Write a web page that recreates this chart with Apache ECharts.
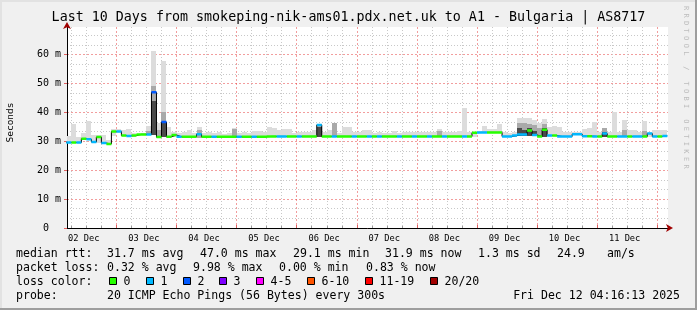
<!DOCTYPE html>
<html><head><meta charset="utf-8">
<script src="https://cdn.jsdelivr.net/npm/echarts@6/dist/echarts.min.js"></script>
<style>html,body{margin:0;padding:0;background:#f0f0f0}#c{width:697px;height:310px}</style>
</head><body><div id="c"></div><script>
// ---- time axis (hours after 02 Dec 00:00) ----
const T0 = 4;          // first sample start
const STEP = 2;        // hours per sample
const X_MIN = 4.27, X_MAX = 244.27;
const Y_MAX = 69.6;
const dayLabels = ['02 Dec','03 Dec','04 Dec','05 Dec','06 Dec','07 Dec','08 Dec','09 Dec','10 Dec','11 Dec'];
const dayNoon = [12,36,60,84,108,132,156,180,204,228];
const midnights = [24,48,72,96,120,144,168,192,216,240];
const sixHours = [6,12,18,30,36,42,54,60,66,78,84,90,102,108,114,126,132,138,150,156,162,174,180,186,198,204,210,222,228,234];
const yMajor = [0,10,20,30,40,50,60];
const yMinor = [3.333,6.667,13.333,16.667,23.333,26.667,33.333,36.667,43.333,46.667,53.333,56.667,63.333,66.667];

// ---- data (ms) ----
const median = [
29.6,29.6,29.6,30.9,30.7,29.8,31.5,29.4,29.1,33.4,
33.4,32.0,31.9,32.0,32.4,32.4,32.4,47.0,31.5,36.7,
31.6,32.2,31.6,31.6,31.6,31.6,32.5,31.6,31.6,31.6,
31.6,31.6,31.6,31.6,31.6,31.6,31.6,31.6,31.6,31.6,
31.7,31.7,31.7,31.7,31.7,31.7,31.7,31.7,31.7,31.7,
35.7,31.7,31.7,31.7,31.7,31.7,31.7,31.7,31.7,31.7,
31.7,31.7,31.7,31.7,31.7,31.7,31.7,31.7,31.7,31.7,
31.7,31.7,31.7,31.7,31.7,31.7,31.7,31.7,31.7,31.7,
31.7,33.0,33.1,33.1,33.1,33.1,33.1,31.7,31.7,32.0,
32.4,32.4,33.8,32.2,31.7,34.0,32.0,32.0,31.7,31.7,
31.7,32.5,32.5,31.8,31.8,31.7,31.7,32.7,31.7,31.7,
31.7,31.7,31.7,31.7,31.7,31.7,32.7,31.7,31.7,31.9];
const loss = [
1,0,1,0,1,1,0,1,0,0,
1,0,1,0,0,0,1,2,0,2,
0,0,1,0,0,0,1,0,0,1,
0,0,0,0,1,0,0,1,0,0,
0,0,1,1,0,0,1,0,0,0,
1,0,0,1,0,0,0,1,0,0,
1,0,1,0,0,0,1,0,0,1,
0,0,1,0,0,1,0,0,0,1,
0,0,1,1,0,0,0,1,1,1,
1,1,0,1,0,0,1,0,1,1,
1,1,1,1,0,1,0,1,0,0,
1,1,0,1,1,0,1,1,0,1];
const smokeLo = [
29.3,29.3,29.3,30.6,30.4,29.5,29.6,29.2,28.9,32.0,
33.1,31.7,31.6,31.7,32.1,32.1,32.1,32.2,31.2,31.5,
31.3,31.4,31.3,31.3,31.3,31.3,31.3,31.3,31.3,31.3,
31.3,31.3,31.3,31.3,31.3,31.3,31.3,31.3,31.3,31.3,
31.4,31.4,31.4,31.4,31.4,31.4,31.4,31.4,31.4,31.4,
31.5,31.4,31.4,31.4,31.4,31.4,31.4,31.4,31.4,31.4,
31.4,31.4,31.4,31.4,31.4,31.4,31.4,31.4,31.4,31.4,
31.4,31.4,31.4,31.4,31.4,31.4,31.4,31.4,31.4,31.4,
31.4,31.6,32.8,32.8,32.8,32.8,32.8,31.4,31.4,31.6,
31.8,31.8,31.9,31.7,31.4,31.6,31.7,31.7,31.4,31.4,
31.4,32.2,32.2,31.5,31.5,31.4,31.4,31.6,31.4,31.4,
31.4,31.4,31.4,31.4,31.4,31.4,31.6,31.4,31.4,31.6];
const smokeDark = [
null,null,null,null,null,null,null,null,null,null,
null,null,null,null,null,null,null,44.0,null,36.7,
null,null,null,null,null,null,null,null,null,null,
null,null,null,null,null,null,null,null,null,null,
null,null,null,null,null,null,null,null,null,null,
35.0,null,null,null,null,null,null,null,null,null,
null,null,null,null,null,null,null,null,null,null,
null,null,null,null,null,null,null,null,null,null,
null,null,null,null,null,null,null,null,null,null,
34.5,34.0,34.5,33.5,null,34.5,null,null,null,null,
null,null,null,null,null,null,null,33.3,null,null,
null,null,null,null,null,null,null,null,null,null];
const smokeMid = [
null,null,null,null,null,null,null,null,null,null,
null,null,null,null,null,null,33.5,49.0,34.0,40.0,
null,null,null,null,null,null,33.8,null,null,null,
null,null,null,34.4,null,null,null,null,null,null,
null,null,null,null,null,null,null,null,null,null,
35.5,null,null,36.3,null,null,null,null,null,null,
null,null,null,null,null,null,null,null,null,null,
null,null,null,null,33.5,null,null,null,null,null,
null,null,null,null,null,null,null,null,null,null,
36.5,36.5,36.0,35.5,34.5,36.0,null,null,null,null,
null,null,null,null,null,null,null,34.5,null,null,
null,34.0,null,null,null,33.5,null,null,null,null];
const smokeHi = [
31.7,36.1,31.5,32.8,36.9,32.3,32.3,32.3,30.5,34.2,
34.2,34.0,34.2,33.0,32.6,33.0,35.4,61.4,36.5,57.7,
34.9,33.3,33.0,33.2,33.9,32.9,35.0,33.0,33.2,32.8,
33.4,32.7,33.0,34.8,33.0,33.2,33.0,33.7,33.7,33.4,
34.9,34.5,33.8,34.2,34.2,32.9,33.4,33.4,33.4,33.9,
35.9,33.4,34.0,36.5,33.0,35.1,35.1,33.4,33.4,33.9,
33.9,33.0,33.4,32.9,33.0,33.6,33.0,33.1,33.1,33.3,
33.1,33.1,33.4,33.1,34.3,33.1,33.4,33.1,33.5,41.5,
33.1,33.3,33.6,35.4,34.2,34.2,36.0,33.4,33.0,33.4,
38.2,38.0,38.2,37.5,36.3,37.7,35.1,35.4,35.0,33.4,
33.4,33.2,33.2,34.2,34.6,36.7,33.4,34.8,33.1,40.0,
33.4,37.5,33.9,33.9,33.4,36.9,33.4,34.0,34.0,33.8];

// ---- legend texts ----
const titleText = 'Last 10 Days from smokeping-nik-ams01.pdx.net.uk to A1 - Bulgaria | AS8717';
const medianStats = ['31.7 ms avg','47.0 ms max','29.1 ms min','31.9 ms now','1.3 ms sd','24.9','am/s'];
const lossStats = ['0.32 % avg','9.98 % max','0.00 % min','0.83 % now'];
const lossLegend = ['0','1','2','3','4-5','6-10','11-19','20/20'];
const lossLegendColors = ['#26ff00','#00b8ff','#0059ff','#7e00ff','#ff00ff','#ff5500','#ff0000','#a10000'];
const lossLineColor = {0:'#26ff00',1:'#00b8ff',2:'#0059ff'};
const probeText = '20 ICMP Echo Pings (56 Bytes) every 300s';
const dateText = 'Fri Dec 12 04:16:13 2025';
const watermark = 'RRDTOOL / TOBI OETIKER';

// ---- build ----
const MONO = '"DejaVu Sans Mono", monospace';
const tOf = i => T0 + STEP * i;
const smokeData = median.map((m, i) => [tOf(i), smokeLo[i], smokeDark[i] == null ? NaN : smokeDark[i], smokeMid[i] == null ? NaN : smokeMid[i], smokeHi[i]]);
const medianLine = median.map((m, i) => [tOf(i), m]);
medianLine.push([tOf(median.length), median[median.length - 1]]);
function segs(level) {
  const out = [];
  median.forEach((m, i) => {
    if (loss[i] === level) { out.push([tOf(i), m], [tOf(i + 1), m], [tOf(i + 1), '-']); }
  });
  return out;
}
const shades = ['#dcdcdc', '#a9a9a9', '#4a4a4a'];
function renderSmoke(params, api) {
  const t = api.value(0), lo = api.value(1);
  const tops = [api.value(4), api.value(3), api.value(2)];
  const children = [];
  tops.forEach((top, k) => {
    if (top == null || isNaN(top)) return;
    const a = api.coord([t, top]), b = api.coord([t + STEP, lo]);
    const x0 = Math.round(a[0]), x1 = Math.round(b[0]), y0 = Math.round(a[1]), y1 = Math.round(b[1]);
    children.push({ type: 'rect', shape: { x: x0, y: y0, width: x1 - x0, height: Math.max(1, y1 - y0) }, style: { fill: shades[k] } });
  });
  return { type: 'group', children };
}

const graphics = [];
function txt(x, y, text, size, align) {
  graphics.push({ type: 'text', x, y, silent: true,
    style: { text, font: size + 'px ' + MONO, fill: '#000', textAlign: align || 'left', textVerticalAlign: 'middle' } });
}
txt(348.5, 18, titleText, 13.33, 'center');
graphics.push({ type: 'text', x: 10.5, y: 122.5, rotation: Math.PI / 2, silent: true,
  style: { text: 'Seconds', font: '9.5px ' + MONO, fill: '#000', textAlign: 'center', textVerticalAlign: 'middle' } });
const LS = 11.55;
const row1 = [107, 200, 293, 385, 478, 557, 607];
txt(16, 254, 'median rtt:', LS);
medianStats.forEach((s, k) => txt(row1[k], 254, s, LS));
const row2 = [107, 193, 279, 366];
txt(16, 268, 'packet loss:', LS);
lossStats.forEach((s, k) => txt(row2[k], 268, s, LS));
txt(16, 282, 'loss color:', LS);
const boxX = [109, 146, 183, 219, 256, 307, 365, 430];
lossLegend.forEach((s, k) => {
  graphics.push({ type: 'rect', silent: true, shape: { x: boxX[k] + 0.5, y: 277.5, width: 7, height: 7 }, style: { fill: lossLegendColors[k], stroke: '#000', lineWidth: 1 } });
  txt(boxX[k] + 14.5, 282, s, LS);
});
txt(16, 296, 'probe:', LS);
txt(107, 296, probeText, LS);
txt(680, 296, dateText, LS, 'right');
watermark.split('').forEach((ch, k) => {
  graphics.push({ type: 'text', x: 686, y: 8 + k * 7.55, rotation: -Math.PI / 2, silent: true,
    style: { text: ch, font: '7px ' + MONO, fill: '#bcbcbc', textAlign: 'center', textVerticalAlign: 'middle' } });
});
// frame shading
graphics.push({ type: 'rect', silent: true, shape: { x: 0, y: 0, width: 697, height: 2 }, style: { fill: '#e2e2e2' } });
graphics.push({ type: 'rect', silent: true, shape: { x: 0, y: 0, width: 2, height: 310 }, style: { fill: '#e2e2e2' } });
graphics.push({ type: 'rect', silent: true, shape: { x: 0, y: 308, width: 697, height: 2 }, style: { fill: '#9e9e9e' } });
graphics.push({ type: 'rect', silent: true, shape: { x: 695, y: 0, width: 2, height: 310 }, style: { fill: '#9e9e9e' } });

const redGrid = { color: 'rgba(230,60,60,0.5)', type: [2, 2], width: 1 };
const grayGrid = { color: '#c8c8c8', type: [1, 2], width: 1 };

const option = {
  backgroundColor: '#f0f0f0',
  animation: false,
  grid: { left: 67, right: 29, top: 27, bottom: 82, show: true, backgroundColor: '#ffffff', borderWidth: 0 },
  xAxis: [
    { type: 'value', min: X_MIN, max: X_MAX, position: 'bottom',
      axisLine: { show: true, onZero: false, lineStyle: { color: '#000', width: 1 } },
      axisTick: { show: true, inside: true, length: 3, customValues: midnights, lineStyle: { color: '#e06060' } },
      axisLabel: { show: true, customValues: dayNoon, margin: 6, fontFamily: MONO, fontSize: 8.7, color: '#000',
        formatter: v => dayLabels[dayNoon.indexOf(v)] + ' ' },
      splitLine: { show: true, lineStyle: redGrid } },
    { type: 'value', min: X_MIN, max: X_MAX, position: 'bottom',
      axisLine: { show: false }, axisLabel: { show: false },
      axisTick: { show: true, inside: true, length: 2, customValues: sixHours, lineStyle: { color: '#999' } },
      splitLine: { show: true, lineStyle: grayGrid } },
    { type: 'value', min: X_MIN, max: X_MAX, position: 'bottom',
      axisLine: { show: true, onZero: false, symbol: ['none', 'arrow'], symbolSize: [6, 7], symbolOffset: [0, 5], lineStyle: { color: '#a00000', width: 0 } },
      axisTick: { show: false }, axisLabel: { show: false }, splitLine: { show: false } }
  ],
  yAxis: [
    { type: 'value', min: 0, max: Y_MAX, position: 'left',
      axisLine: { show: true, onZero: false, lineStyle: { color: '#000', width: 1 } },
      axisTick: { show: true, inside: false, length: 3, customValues: yMajor, lineStyle: { color: '#e06060' } },
      axisLabel: { customValues: yMajor, margin: 6, fontFamily: MONO, fontSize: 10, color: '#000',
        formatter: v => v === 0 ? '0  ' : v + ' m' },
      splitLine: { show: true, lineStyle: redGrid } },
    { type: 'value', min: 0, max: Y_MAX, position: 'left',
      axisLine: { show: false }, axisLabel: { show: false },
      axisTick: { show: false, customValues: yMinor },
      splitLine: { show: true, lineStyle: grayGrid } },
    { type: 'value', min: 0, max: Y_MAX, position: 'left',
      axisLine: { show: true, onZero: false, symbol: ['none', 'arrow'], symbolSize: [6, 7], symbolOffset: [0, 5], lineStyle: { color: '#a00000', width: 0 } },
      axisTick: { show: false }, axisLabel: { show: false }, splitLine: { show: false } }
  ],
  graphic: graphics,
  series: [
    { type: 'custom', name: 'smoke', renderItem: renderSmoke, data: smokeData, encode: { x: 0, y: [1, 4] }, clip: true, z: 2, silent: true },
    { type: 'line', name: 'median', data: medianLine, step: 'end', showSymbol: false, clip: true, z: 3, silent: true,
      lineStyle: { color: '#000', width: 1 } }
  ].concat([0, 1, 2].map(L => ({ type: 'line', name: 'loss' + L, data: segs(L), showSymbol: false, clip: true, z: 4, silent: true,
      connectNulls: false, lineStyle: { color: lossLineColor[L], width: 2.5 } })))
};
const chart = echarts.init(document.getElementById('c'), null, { renderer: 'canvas', width: 697, height: 310 });
chart.setOption(option);
</script></body></html>
